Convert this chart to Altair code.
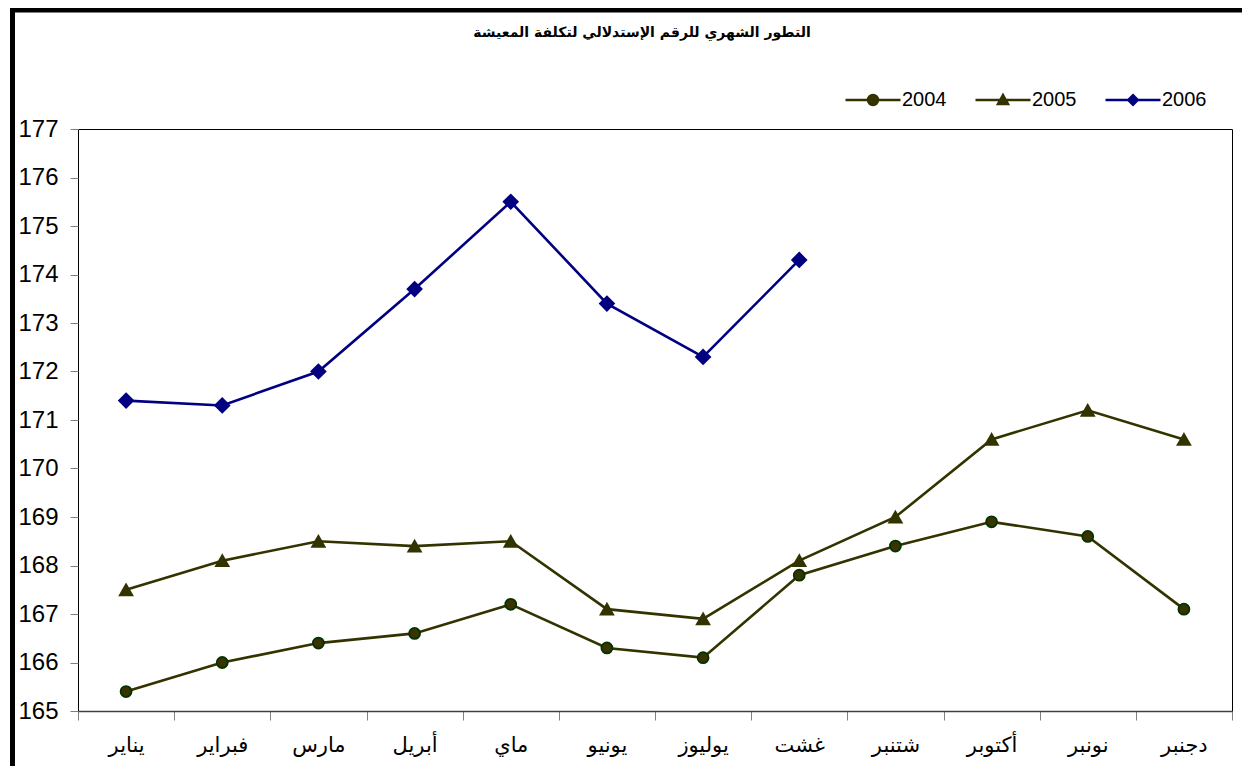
import altair as alt
import pandas as pd

# ---- data ----
months = ["يناير", "فبراير", "مارس", "أبريل", "ماي", "يونيو",
          "يوليوز", "غشت", "شتنبر", "أكتوبر", "نونبر", "دجنبر"]
years = ["2004", "2005", "2006"]
v2004 = [165.4, 166.0, 166.4, 166.6, 167.2, 166.3, 166.1, 167.8, 168.4, 168.9, 168.6, 167.1]
v2005 = [167.5, 168.1, 168.5, 168.4, 168.5, 167.1, 166.9, 168.1, 169.0, 170.6, 171.2, 170.6]
v2006 = [171.4, 171.3, 172.0, 173.7, 175.5, 173.4, 172.3, 174.3]
y_ticks = [165, 166, 167, 168, 169, 170, 171, 172, 173, 174, 175, 176, 177]
title_text = "التطور الشهري للرقم الإستدلالي لتكلفة المعيشة"

rows = []
for yr, vals in zip(years, [v2004, v2005, v2006]):
    for m, v in zip(months, vals):
        rows.append({"month": m, "year": yr, "value": v})
df = pd.DataFrame(rows)

# ---- styles ----
line_colors = ["#333300", "#333300", "#000080"]
fill_colors = ["#3a3300", "#333300", "#000080"]
stroke_colors = ["#003300", "#333300", "#000080"]
shapes = ["circle", "triangle-up", "diamond"]
sizes = [120, 200, 170]
leg_stroke = ["#333300", "#333300", "#000080"]
leg_paths = [
    "M-5.5,0H5.5M1,0A1,1,0,1,1,-1,0A1,1,0,1,1,1,0Z",
    "M-5.5,0H5.5M0,-1L1,0.8L-1,0.8Z",
    "M-5.5,0H5.5M0,-0.95L0.95,0L0,0.95L-0.95,0Z",
]

W, H = 1154, 582

x_enc = alt.X(
    "month:N", sort=months,
    scale=alt.Scale(type="band", paddingInner=0, paddingOuter=0),
    axis=alt.Axis(title=None, labelAngle=0, tickBand="extent", tickSize=9,
                  tickColor="#808080", labelFont="DejaVu Sans", labelFontSize=21,
                  labelColor="black", labelPadding=14, domainColor="#404040",
                  domainWidth=1.5, grid=False),
)
y_enc = alt.Y(
    "value:Q",
    scale=alt.Scale(domain=[165, 177], nice=False, zero=False),
    axis=alt.Axis(title=None, values=y_ticks, grid=False, domain=False, tickSize=8,
                  tickColor="#808080", labelFont="Liberation Sans", labelFontSize=24,
                  labelColor="black", labelPadding=12, format="d"),
)

base = alt.Chart(df)

lines = base.mark_line(strokeWidth=2.6).encode(
    x=x_enc, y=y_enc,
    color=alt.Color("year:N", scale=alt.Scale(domain=years, range=line_colors), legend=None),
)

points = base.mark_point(filled=True, opacity=1, strokeWidth=1.8).encode(
    x=x_enc, y=y_enc,
    shape=alt.Shape("year:N", scale=alt.Scale(domain=years, range=shapes), legend=None),
    fill=alt.Fill("year:N", scale=alt.Scale(domain=years, range=fill_colors), legend=None),
    stroke=alt.Stroke("year:N", scale=alt.Scale(domain=years, range=stroke_colors), legend=None),
    size=alt.Size("year:N", scale=alt.Scale(domain=years, range=sizes), legend=None),
)

leg_def = alt.Legend(
    orient="none", legendX=785, legendY=-39, direction="horizontal", title=None,
    labelFont="Liberation Sans", labelFontSize=20, labelColor="black",
    symbolSize=100, symbolStrokeWidth=2.5, labelOffset=19, columnPadding=23,
    padding=0, symbolOffset=0,
)

legend_layer = base.transform_filter("false").mark_point(
    filled=True, opacity=1, size=100, strokeWidth=2.5
).encode(
    x=x_enc, y=y_enc,
    shape=alt.Shape("year:N", scale=alt.Scale(domain=years, range=leg_paths), legend=leg_def),
    fill=alt.Fill("year:N", scale=alt.Scale(domain=years, range=fill_colors), legend=leg_def),
    stroke=alt.Stroke("year:N", scale=alt.Scale(domain=years, range=leg_stroke), legend=leg_def),
)

frame = alt.Chart(pd.DataFrame({"f": [0]})).mark_rect(
    filled=False, color="black", strokeWidth=5
).encode(
    x=alt.value(-65.5), x2=alt.value(W + 40),
    y=alt.value(-119), y2=alt.value(H + 80),
)

chart = alt.layer(lines, points, legend_layer, frame).resolve_scale(
    color="independent", fill="independent", stroke="independent",
    shape="independent", size="independent",
).properties(
    width=W, height=H,
    autosize=alt.AutoSizeParams(type="none"),
    padding={"left": 70, "top": 121, "right": 10, "bottom": 55},
    background="white",
    title=alt.TitleParams(title_text, font="DejaVu Sans", fontSize=14, fontWeight="bold",
                          anchor="middle", frame="group", offset=-32, dx=-13, color="black"),
).configure_view(stroke="black", strokeWidth=1)

chart.save("out.html", embed_options={"renderer": "svg", "actions": False})
